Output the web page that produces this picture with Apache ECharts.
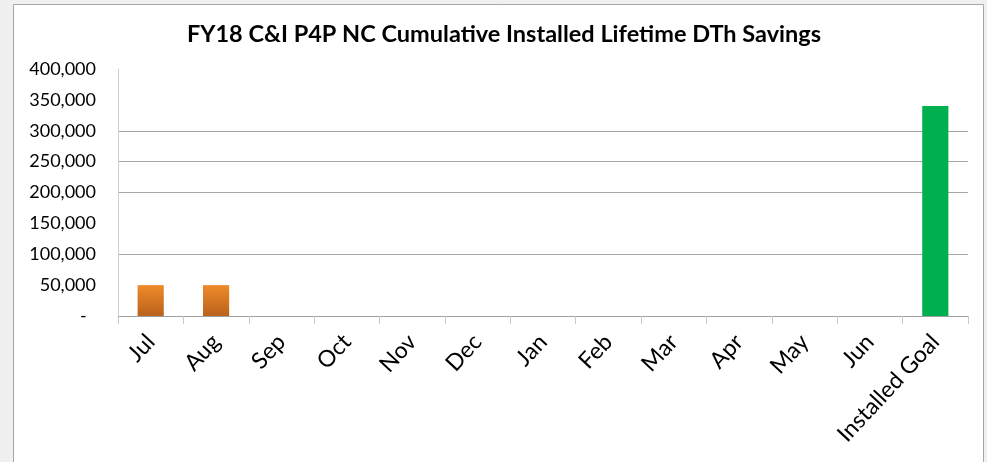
<!DOCTYPE html>
<html>
<head>
<meta charset="utf-8">
<script src="https://cdn.jsdelivr.net/npm/echarts@6/dist/echarts.min.js"></script>
<style>
html,body{margin:0;padding:0;background:#f0f0f0;}
#chart{width:987px;height:462px;}
</style>
</head>
<body>
<div id="chart"></div>
<script>
var titleText = 'FY18 C&I P4P NC Cumulative Installed Lifetime DTh Savings';
var categories = ['Jul','Aug','Sep','Oct','Nov','Dec','Jan','Feb','Mar','Apr','May','Jun','Installed Goal'];
var installedValues = [50000, 50000, null, null, null, null, null, null, null, null, null, null, null];
var goalValues = [null, null, null, null, null, null, null, null, null, null, null, null, 340000];
var yTicks = [0, 50000, 100000, 150000, 200000, 250000, 300000, 350000, 400000];

var fontFam = 'Lato, "Liberation Sans", sans-serif';
// visible grid lines per tick (as in the reference picture)
var gridColors = yTicks.map(function(v){
  return (v === 100000 || v === 200000 || v === 250000 || v === 300000) ? '#a6a6a6' : 'rgba(0,0,0,0)';
});

var chart = echarts.init(document.getElementById('chart'), null, {renderer:'canvas'});
chart.setOption({
  backgroundColor: '#f0f0f0',
  animation: false,
  graphic: [{
    type: 'rect',
    shape: {x: 13.5, y: 4.5, width: 970, height: 470},
    style: {fill: '#ffffff', stroke: '#a6a6a6', lineWidth: 1},
    z: -10
  }],
  title: {
    text: titleText,
    left: 499, top: 17, textAlign: 'center',
    textStyle: {fontFamily: fontFam, fontWeight: 'bold', fontSize: 23.5, color: '#000'}
  },
  grid: {left: 118, right: 19, top: 69, bottom: 146, containLabel: false},
  xAxis: {
    type: 'category',
    data: categories,
    axisLine: {lineStyle: {color: '#a0a0a0', width: 1}},
    axisTick: {show: true, length: 8, lineStyle: {color: '#c8c8c8'}},
    axisLabel: {rotate: 47, margin: 22, interval: 0, fontFamily: fontFam, fontSize: 23, color: '#000'}
  },
  yAxis: {
    type: 'value',
    min: 0, max: 400000, interval: 50000,
    axisLine: {show: true, lineStyle: {color: '#d0d0d0'}},
    axisTick: {show: false},
    splitLine: {show: true, lineStyle: {color: gridColors, width: 1}},
    axisLabel: {
      margin: 22, fontFamily: fontFam, fontSize: 18, color: '#000',
      formatter: function(v){ return v === 0 ? '-  ' : v.toLocaleString('en-US'); }
    }
  },
  series: [{
    type: 'bar',
    name: 'Installed',
    stack: 's',
    data: installedValues,
    barCategoryGap: '60%',
    itemStyle: {color: new echarts.graphic.LinearGradient(0,0,0,1,[{offset:0,color:'#f08a2a'},{offset:1,color:'#b9621c'}])}
  },{
    type: 'bar',
    name: 'Installed Goal',
    stack: 's',
    data: goalValues,
    barCategoryGap: '60%',
    itemStyle: {color: '#00b050'}
  }]
});
</script>
</body>
</html>
